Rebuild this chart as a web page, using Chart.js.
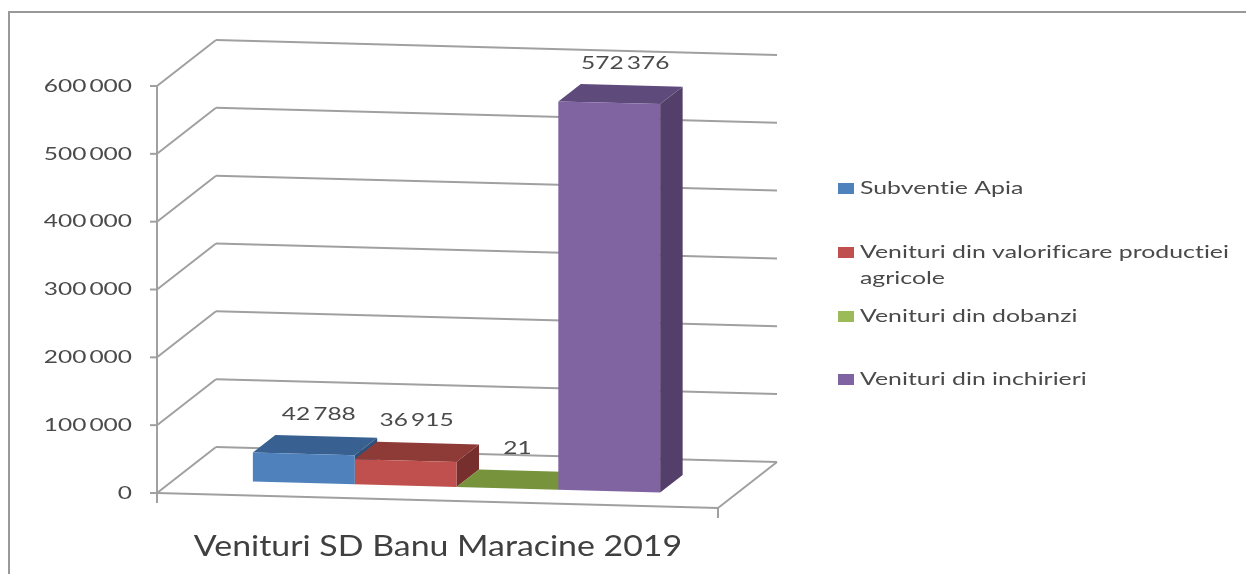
<!DOCTYPE html>
<html>
<head>
<meta charset="utf-8">
<title>Venituri SD Banu Maracine 2019</title>
<script src="https://cdn.jsdelivr.net/npm/chart.js@4"></script>
<style>
  html, body { margin: 0; padding: 0; background: #fff; overflow: hidden; }
  #chart { display: block; filter: blur(0.7px); }
</style>
</head>
<body>
<canvas id="chart" width="1246" height="574"></canvas>
<script>
// Data
const categories = ['Venituri SD Banu Maracine 2019'];
const seriesNames = ['Subventie Apia', 'Venituri din valorificare productiei agricole', 'Venituri din dobanzi', 'Venituri din inchirieri'];
const seriesValues = [42788, 36915, 21, 572376];
const tickLabels = ['0', '100\u2009000', '200\u2009000', '300\u2009000', '400\u2009000', '500\u2009000', '600\u2009000'];

// front, top and side colours of each block, legend swatch
const frontColors = ['#4f81bd', '#c0504d', '#77933c', '#8064a2'];
const topColors = ['#386090', '#8e3b38', '#77933c', '#5f4a7c'];
const sideColors = ['#2f5078', '#772f2d', '#5f762f', '#533f69'];
const swatchColors = ['#4f81bd', '#c0504d', '#9bbb59', '#8064a2'];
const labelOffsets = [15, 11, 10, 16];

// the whole plot leans a little and has a floor going back
const slope = 0.0266;
const depth = { x: 59, y: -46 };
const barShift = { x: 19, y: -13.5 };
const barDepth = { x: 22.5, y: -18 };
const gridColor = '#a0a0a0';
const textColor = '#4a4a4a';

// text in the picture is stretched sideways, so scale it when drawing
function stretchedText(ctx, text, x, y, font, sx, align, color) {
  ctx.save();
  ctx.font = font;
  ctx.textRendering = 'optimizeSpeed'; // no "ti" ligature
  ctx.fillStyle = color || textColor;
  ctx.textBaseline = 'middle';
  ctx.textAlign = align;
  ctx.translate(x, y);
  ctx.scale(sx, 1);
  ctx.fillText(text, 0, 0);
  ctx.restore();
}

function line(ctx, x1, y1, x2, y2) {
  ctx.beginPath();
  ctx.moveTo(x1, y1);
  ctx.lineTo(x2, y2);
  ctx.stroke();
}

function poly(ctx, pts, color) {
  ctx.fillStyle = color;
  ctx.beginPath();
  pts.forEach((p, i) => i ? ctx.lineTo(p[0], p[1]) : ctx.moveTo(p[0], p[1]));
  ctx.closePath();
  ctx.fill();
}

const plot3d = {
  id: 'plot3d',
  beforeDatasetsDraw(chart) {
    const ctx = chart.ctx;
    const area = chart.chartArea;
    const yScale = chart.scales.y;
    const left = area.left, right = area.right;
    const drop = (right - left) * slope;

    // frame round the picture
    ctx.save();
    ctx.strokeStyle = '#999999';
    ctx.lineWidth = 2;
    ctx.beginPath();
    ctx.moveTo(9, 574);
    ctx.lineTo(9, 12);
    ctx.lineTo(1246, 12);
    ctx.stroke();

    // walls and gridlines
    ctx.strokeStyle = gridColor;
    ctx.lineWidth = 2;
    line(ctx, left, yScale.getPixelForValue(yScale.max), left, yScale.getPixelForValue(0) + 10);
    yScale.ticks.forEach((tick, i) => {
      const y = yScale.getPixelForValue(tick.value);
      line(ctx, left - 7, y, left, y);
      line(ctx, left, y, left + depth.x, y + depth.y);
      line(ctx, left + depth.x, y + depth.y, right + depth.x, y + depth.y + drop);
      stretchedText(ctx, tickLabels[i], left - 25, y, '18px Lato', 1.36, 'right');
    });
    // floor
    const y0 = yScale.getPixelForValue(0);
    line(ctx, left, y0, right, y0 + drop);
    line(ctx, right, y0 + drop, right + depth.x, y0 + drop + depth.y);
    line(ctx, right, y0 + drop, right, y0 + drop + 10);
    ctx.restore();

    // every bar is drawn by Chart.js in this leaning frame, restored after the datasets
    ctx.save();
    ctx.transform(1, slope, 0, 1, barShift.x, barShift.y - slope * left);

    // top and side of the blocks go under the front faces
    chart.data.datasets.forEach((ds, i) => {
      const bar = chart.getDatasetMeta(i).data[0];
      const x1 = bar.x - bar.width / 2, x2 = bar.x + bar.width / 2;
      const dx = barDepth.x, dy = barDepth.y;
      poly(ctx, [[x2, bar.y], [x2 + dx, bar.y + dy], [x2 + dx, bar.base + dy], [x2, bar.base]], sideColors[i]);
      poly(ctx, [[x1, bar.y], [x1 + dx, bar.y + dy], [x2 + dx, bar.y + dy], [x2, bar.y]], topColors[i]);
    });
  },
  afterDatasetsDraw(chart) {
    const ctx = chart.ctx;
    ctx.restore();
    const area = chart.chartArea;

    // value labels
    chart.data.datasets.forEach((ds, i) => {
      const bar = chart.getDatasetMeta(i).data[0];
      const text = String(ds.data[0]).replace(/\B(?=(\d{3})+$)/g, '\u2009');
      const yLean = bar.y + slope * (bar.x - area.left) + barShift.y;
      stretchedText(ctx, text, bar.x + barShift.x + labelOffsets[i], yLean - 40, '18px Lato', 1.36, 'center');
    });

    // title under the floor
    stretchedText(ctx, chart.data.labels[0], 438, 547, '28px Lato', 1.21, 'center', '#404040');

    // legend on the right
    const legendFont = '18px Lato', legendStretch = 1.38, legendWidth = 380;
    const rows = [188, 252, 316, 379];
    seriesNames.forEach((name, i) => {
      ctx.fillStyle = swatchColors[i];
      ctx.fillRect(838, rows[i] - 5, 16, 11);
      // wrap long names on a second line
      ctx.font = legendFont;
      const lines = [''];
      name.split(' ').forEach(word => {
        const next = (lines[lines.length - 1] + ' ' + word).trim();
        if (ctx.measureText(next).width * legendStretch > legendWidth) lines.push(word);
        else lines[lines.length - 1] = next;
      });
      lines.forEach((txt, n) => stretchedText(ctx, txt, 860, rows[i] + n * 26, legendFont, legendStretch, 'left'));
    });
  }
};

new Chart(document.getElementById('chart'), {
  type: 'bar',
  data: {
    labels: categories,
    datasets: seriesNames.map((name, i) => ({
      label: name,
      data: [seriesValues[i]],
      backgroundColor: frontColors[i],
      borderWidth: 0,
      clip: false
    }))
  },
  options: {
    responsive: false,
    animation: false,
    categoryPercentage: 0.726,
    barPercentage: 1,
    layout: { padding: { left: 157, right: 528, top: 86, bottom: 81 } },
    plugins: {
      legend: { display: false },
      title: { display: false },
      tooltip: { enabled: false }
    },
    scales: {
      x: { display: false },
      y: {
        display: false,
        min: 0,
        max: 600000,
        ticks: { stepSize: 100000 }
      }
    }
  },
  plugins: [plot3d]
});
</script>
</body>
</html>
